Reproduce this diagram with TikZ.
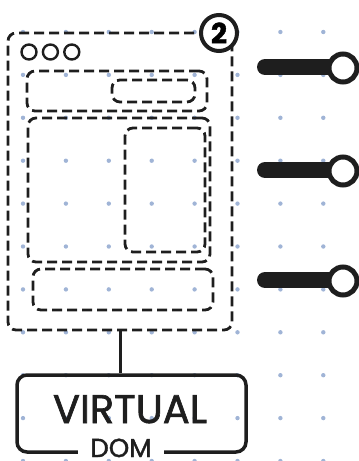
\documentclass[tikz,border=0pt]{standalone}
\usepackage{fontspec}
\setmainfont{Poppins}
\newfontfamily\handfont{Poppins}[FakeBold=1.6]
\usetikzlibrary{positioning}
\definecolor{ink}{RGB}{30,30,30}
\definecolor{dotgrey}{RGB}{160,180,214}

\begin{document}
\begin{tikzpicture}[x=1pt,y=-1pt,panel/.style={draw=ink,line width=2.8pt,dash pattern=on 10pt off 5pt,rounded corners=8pt,inner sep=0pt},knob/.style={circle,draw=ink,line width=2.4pt,minimum size=15pt,inner sep=0pt},pin/.style={circle,draw=ink,fill=white,line width=5pt,minimum size=28pt,inner sep=0pt},stem/.style={draw=ink,line width=16pt,line cap=round}]
\useasboundingbox (0,0) rectangle (359,461);
% dot grid
\foreach \i in {0,...,7}\foreach \j in {0,...,10}\fill[dotgrey] (23+42.9*\i,32+42.9*\j) circle (2.2pt);
% browser window
\node[panel,minimum width=224pt,minimum height=297pt] (window) at (120,181.5) {};
\node[panel,minimum width=180pt,minimum height=40pt] (header) at (117,91) {};
\node[panel,minimum width=83pt,minimum height=22pt] (search) at (153.5,91) {};
\node[panel,minimum width=182pt,minimum height=144pt] (body) at (119,190) {};
\node[panel,minimum width=80pt,minimum height=124pt] (side) at (165,190) {};
\node[panel,minimum width=180pt,minimum height=41pt] (footer) at (123,289.5) {};
\node[knob] (k1) at (29,52) {};\node[knob,right=4pt of k1] (k2) {};\node[knob,right=4pt of k2] (k3) {};
\node[circle,draw=ink,fill=white,line width=4pt,minimum size=36pt,inner sep=0pt,font=\handfont\bfseries\fontsize{28}{28}\selectfont] (badge) at (219,33) {2};
% pins
\foreach \y [count=\n] in {67,170,280}{
\coordinate (s\n) at (265,\y);\coordinate (e\n) at (330,\y);
\draw[stem] (s\n)--(e\n);
\node[pin] (p\n) at (343,\y+1) {};}
% virtual dom
\node[draw=ink,line width=3.5pt,rounded corners=10pt,minimum width=229pt,minimum height=77pt,inner sep=0pt] (vdom) at (131.5,413.5) {};
\node[anchor=base,font=\handfont\fontsize{40}{40}\selectfont,text=ink] (virtual) at (130,423) {VIRTUAL};
\node[anchor=base,fill=white,inner xsep=12pt,inner ysep=1pt,font=\handfont\fontsize{26}{26}\selectfont,text=ink] (dom) at (121,457) {DOM};
\draw[ink,line width=3pt] (window.south)--(window.south |- vdom.north);
\end{tikzpicture}
\end{document}
